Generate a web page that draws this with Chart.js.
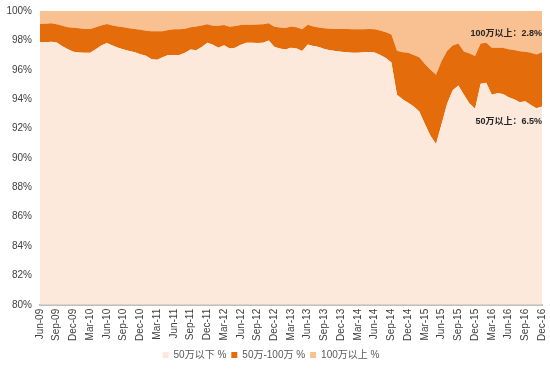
<!DOCTYPE html>
<html>
<head>
<meta charset="utf-8">
<script src="https://cdn.jsdelivr.net/npm/chart.js@4"></script>
<style>
  html, body { margin: 0; padding: 0; background: #fff; }
  #wrap { width: 550px; height: 370px; }
</style>
</head>
<body>
<div id="wrap"><canvas id="chart"></canvas></div>
<script>
const months = [
  'Jun-09','Jul-09','Aug-09','Sep-09','Oct-09','Nov-09','Dec-09','Jan-10','Feb-10','Mar-10',
  'Apr-10','May-10','Jun-10','Jul-10','Aug-10','Sep-10','Oct-10','Nov-10','Dec-10','Jan-11',
  'Feb-11','Mar-11','Apr-11','May-11','Jun-11','Jul-11','Aug-11','Sep-11','Oct-11','Nov-11',
  'Dec-11','Jan-12','Feb-12','Mar-12','Apr-12','May-12','Jun-12','Jul-12','Aug-12','Sep-12',
  'Oct-12','Nov-12','Dec-12','Jan-13','Feb-13','Mar-13','Apr-13','May-13','Jun-13','Jul-13',
  'Aug-13','Sep-13','Oct-13','Nov-13','Dec-13','Jan-14','Feb-14','Mar-14','Apr-14','May-14',
  'Jun-14','Jul-14','Aug-14','Sep-14','Oct-14','Nov-14','Dec-14','Jan-15','Feb-15','Mar-15',
  'Apr-15','May-15','Jun-15','Jul-15','Aug-15','Sep-15','Oct-15','Nov-15','Dec-15','Jan-16',
  'Feb-16','Mar-16','Apr-16','May-16','Jun-16','Jul-16','Aug-16','Sep-16','Oct-16','Nov-16',
  'Dec-16'
];

// 50万以下 %
const below50 = [
  97.88, 97.88, 97.90, 97.85, 97.60, 97.40, 97.22, 97.18, 97.15, 97.15,
  97.40, 97.65, 97.82, 97.65, 97.50, 97.38, 97.28, 97.20, 97.05, 96.95,
  96.72, 96.68, 96.85, 97.00, 97.00, 97.00, 97.15, 97.38, 97.32, 97.55,
  97.83, 97.70, 97.50, 97.67, 97.45, 97.50, 97.70, 97.83, 97.83, 97.82,
  97.83, 98.00, 97.56, 97.45, 97.38, 97.50, 97.45, 97.28, 97.72, 97.62,
  97.55, 97.42, 97.33, 97.27, 97.22, 97.20, 97.15, 97.15, 97.20, 97.21,
  97.17, 97.00, 96.80, 96.49, 94.30, 94.00, 93.75, 93.50, 93.15, 92.30,
  91.50, 90.94, 92.30, 93.70, 94.60, 94.93, 94.30, 93.70, 93.34, 95.05,
  95.11, 94.30, 94.40, 94.35, 94.13, 94.00, 93.78, 93.85, 93.60, 93.38,
  93.50
];

// 50万-100万 %
const from50to100 = [
  1.24, 1.26, 1.26, 1.25, 1.40, 1.50, 1.64, 1.64, 1.63, 1.62,
  1.50, 1.37, 1.29, 1.37, 1.45, 1.52, 1.55, 1.57, 1.67, 1.71,
  1.90, 1.94, 1.77, 1.70, 1.75, 1.75, 1.65, 1.52, 1.63, 1.47,
  1.26, 1.30, 1.50, 1.37, 1.48, 1.48, 1.34, 1.23, 1.24, 1.26,
  1.27, 1.16, 1.37, 1.43, 1.47, 1.45, 1.45, 1.47, 1.34, 1.33,
  1.33, 1.40, 1.47, 1.51, 1.55, 1.57, 1.61, 1.60, 1.56, 1.56,
  1.58, 1.68, 1.75, 1.91, 3.00, 3.20, 3.40, 3.50, 3.70, 4.10,
  4.50, 4.72, 4.30, 3.60, 3.05, 2.86, 2.95, 3.40, 3.60, 2.74,
  2.72, 3.20, 3.10, 3.14, 3.27, 3.35, 3.48, 3.37, 3.55, 3.65,
  3.70
];

// 100万以上 %
const above100 = [
  0.88, 0.86, 0.84, 0.90, 1.00, 1.10, 1.14, 1.18, 1.22, 1.23,
  1.10, 0.98, 0.89, 0.98, 1.05, 1.10, 1.17, 1.23, 1.28, 1.34,
  1.38, 1.38, 1.38, 1.30, 1.25, 1.25, 1.20, 1.10, 1.05, 0.98,
  0.91, 1.00, 1.00, 0.96, 1.07, 1.02, 0.96, 0.94, 0.93, 0.92,
  0.90, 0.84, 1.07, 1.12, 1.15, 1.05, 1.10, 1.25, 0.94, 1.05,
  1.12, 1.18, 1.20, 1.22, 1.23, 1.23, 1.24, 1.25, 1.24, 1.23,
  1.25, 1.32, 1.45, 1.60, 2.70, 2.80, 2.85, 3.00, 3.15, 3.60,
  4.00, 4.34, 3.40, 2.70, 2.35, 2.21, 2.75, 2.90, 3.06, 2.21,
  2.17, 2.50, 2.50, 2.51, 2.60, 2.65, 2.74, 2.78, 2.85, 2.97,
  2.80
];

const seriesNames = ['50万以下 %', '50万-100万 %', '100万以上 %'];
const yTicks = [80, 82, 84, 86, 88, 90, 92, 94, 96, 98, 100];

// callouts on the right side: [text, y value]
const callouts = [
  ['100万以上：2.8%', 98.45],
  ['50万以上：6.5%', 92.5]
];

const FONT = "Arial, 'Liberation Sans', 'Noto Sans CJK SC', sans-serif";

const calloutPlugin = {
  id: 'callouts',
  afterDatasetsDraw(chart) {
    const { ctx, chartArea, scales } = chart;
    ctx.save();
    ctx.font = 'bold 9px ' + FONT;
    ctx.fillStyle = '#262626';
    ctx.textAlign = 'right';
    ctx.textBaseline = 'middle';
    callouts.forEach(([text, v]) => {
      ctx.fillText(text, chartArea.right, scales.y.getPixelForValue(v));
    });
    ctx.restore();
  }
};

new Chart(document.getElementById('chart'), {
  type: 'line',
  data: {
    labels: months,
    datasets: [
      { label: seriesNames[0], data: below50, backgroundColor: '#FCE9DB', fill: 'origin' },
      { label: seriesNames[1], data: from50to100, backgroundColor: '#E46C0A', fill: '-1' },
      { label: seriesNames[2], data: above100, backgroundColor: '#F9C092', fill: '-1' }
    ]
  },
  options: {
    responsive: true,
    maintainAspectRatio: false,
    animation: false,
    elements: {
      point: { radius: 0 },
      line: { borderWidth: 0, tension: 0 }
    },
    layout: { padding: { left: 0, right: 8, top: 11, bottom: 0 } },
    plugins: {
      legend: {
        position: 'bottom',
        labels: {
          boxWidth: 6,
          boxHeight: 6,
          padding: 5,
          color: '#595959',
          font: { size: 10, family: FONT }
        }
      },
      tooltip: { enabled: false }
    },
    scales: {
      x: {
        offset: false,
        grid: { display: false, drawTicks: false },
        border: { color: '#BFBFBF', width: 2 },
        ticks: {
          autoSkip: false,
          minRotation: 90,
          maxRotation: 90,
          padding: 4,
          color: '#404040',
          font: { size: 10, family: FONT },
          callback: (v, i) => (i % 3 === 0 ? months[i] : null)
        },
        afterFit: (s) => { s.paddingRight = 0; s.paddingLeft = 0; }
      },
      y: {
        stacked: true,
        min: 80,
        max: 100,
        afterBuildTicks: (s) => { s.ticks = yTicks.map(v => ({ value: v })); },
        grid: { display: false },
        border: { display: false },
        ticks: {
          color: '#404040',
          font: { size: 10, family: FONT },
          padding: 0,
          callback: (v) => v + '%'
        },
        afterFit: (s) => { s.width = 40; }
      }
    }
  },
  plugins: [calloutPlugin]
});
</script>
</body>
</html>
